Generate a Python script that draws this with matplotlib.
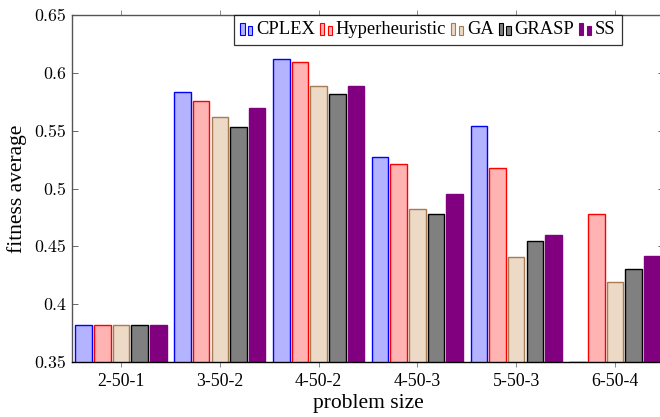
import matplotlib
matplotlib.use("Agg")
import matplotlib.pyplot as plt
from matplotlib.patches import Rectangle
from matplotlib.legend_handler import HandlerBase
import numpy as np

categories = ["2-50-1", "3-50-2", "4-50-2", "4-50-3", "5-50-3", "6-50-4"]
series_names = ["CPLEX", "Hyperheuristic", "GA", "GRASP", "SS"]
cplex = [0.382, 0.583, 0.612, 0.527, 0.554, 0.350]
hyper = [0.382, 0.576, 0.609, 0.521, 0.518, 0.478]
ga = [0.382, 0.562, 0.589, 0.482, 0.441, 0.419]
grasp = [0.382, 0.553, 0.582, 0.478, 0.455, 0.430]
ss = [0.382, 0.570, 0.589, 0.495, 0.460, 0.442]
y_ticks = [0.35, 0.4, 0.45, 0.5, 0.55, 0.6, 0.65]
y_tick_labels = ["0.35", "0.4", "0.45", "0.5", "0.55", "0.6", "0.65"]

faces = ["#b3b3ff", "#ffb3b3", "#ecd9c6", "#808080", "#800080"]
edges = ["#0000ff", "#ff0000", "#a67c52", "#000000", "#800080"]

W, H = 660, 417
fig = plt.figure(figsize=(W / 100, H / 100), dpi=100)
left, right, bottom, top = 71.6, 664.4, 362, 15
ax = fig.add_axes([left / W, 1 - bottom / H, (right - left) / W, (bottom - top) / H])

serif = ["Liberation Serif", "DejaVu Serif"]
FS = 12.8
FS_LAB = 15.5
FS_LEG = 13.3

x = np.arange(len(categories))
data = [cplex, hyper, ga, grasp, ss]
width = 0.168
step = 0.189
handles = []
for i, vals in enumerate(data):
    b = ax.bar(x + (i - 2) * step, vals, width, bottom=0,
               color=faces[i], edgecolor=edges[i], linewidth=1.0,
               label=series_names[i], zorder=2)
    handles.append(b)

ax.set_xlim(-0.5, len(categories) - 0.5)
ax.set_ylim(0.35, 0.65)
ax.set_yticks(y_ticks)
ax.set_yticklabels(y_tick_labels, fontfamily=["cmr10", "DejaVu Serif"], fontsize=FS)
ax.set_xticks(x)
ax.set_xticklabels(categories, fontfamily=serif, fontsize=FS)

ax.tick_params(axis="y", direction="in", left=True, right=True, length=4,
               width=0.7, color="#666666", pad=4)
ax.tick_params(axis="x", direction="out", bottom=True, top=True, length=3.6,
               width=0.7, color="#888888", pad=4)
for s in ["left", "right", "top"]:
    ax.spines[s].set_color("#555555")
    ax.spines[s].set_linewidth(1.0)
ax.spines["bottom"].set_color("#000000")
ax.spines["bottom"].set_linewidth(1.0)

fig.text(17 / W, 1 - 188.5 / H, "fitness average", rotation=90, ha="center",
         va="center", fontfamily=serif, fontsize=FS_LAB)
fig.text(368 / W, 1 - 403.5 / H, "problem size", ha="center", va="center",
         fontfamily=serif, fontsize=FS_LAB)


class TwoBarHandler(HandlerBase):
    def create_artists(self, legend, orig_handle, xdescent, ydescent, width,
                       height, fontsize, trans):
        p = orig_handle.patches[0]
        fc = p.get_facecolor()
        ec = p.get_edgecolor()
        bw = width * 0.36
        r1 = Rectangle((-xdescent, -ydescent - 1), bw, height * 1.05,
                       facecolor=fc, edgecolor=ec, linewidth=0.8, transform=trans)
        r2 = Rectangle((-xdescent + width - bw, -ydescent - 1), bw, height * 0.8,
                       facecolor=fc, edgecolor=ec, linewidth=0.8, transform=trans)
        return [r1, r2]


leg = ax.legend(handles=handles, labels=series_names, ncol=5,
                handler_map={type(handles[0]): TwoBarHandler()},
                prop={"family": serif, "size": FS_LEG},
                loc="upper left", bbox_to_anchor=((234 - left) / (right - left), 1.0),
                frameon=True, fancybox=False, edgecolor="#000000",
                handlelength=0.65, handleheight=0.6, handletextpad=0.2,
                columnspacing=0.27, borderpad=0.35, borderaxespad=0.0)
leg.get_frame().set_linewidth(0.9)
leg.set_zorder(5)

fig.savefig("out.png", dpi=100)
